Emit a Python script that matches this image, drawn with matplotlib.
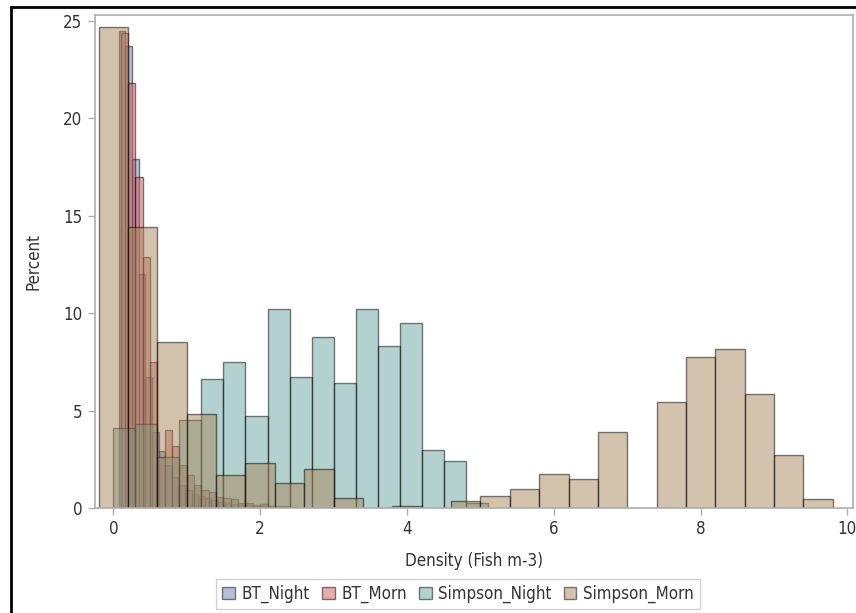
import matplotlib
matplotlib.use("Agg")
import matplotlib.pyplot as plt
from matplotlib import font_manager as fm
from matplotlib.patches import Patch, Rectangle

# bin midpoints and percents
bt_night_width = 0.09
bt_night_mid = [0.12, 0.21, 0.30, 0.39, 0.48, 0.57, 0.66, 0.75, 0.84, 0.93,
                1.02, 1.11, 1.20, 1.29, 1.38, 1.47, 1.56, 1.65, 1.74, 1.83,
                1.92, 2.01, 2.10]
bt_night_pct = [24.5, 23.7, 17.9, 12.0, 6.7, 3.9, 2.9, 2.2, 1.6, 1.2,
                0.9, 0.7, 0.6, 0.5, 0.4, 0.3, 0.25, 0.2, 0.15, 0.15,
                0.1, 0.1, 0.1]

bt_morn_width = 0.1
bt_morn_mid = [0.15, 0.25, 0.35, 0.45, 0.55, 0.65, 0.75, 0.85, 0.95, 1.05,
               1.15, 1.25, 1.35, 1.45, 1.55, 1.65, 1.75, 1.85, 1.95, 2.05,
               2.15, 2.25, 2.35, 2.45]
bt_morn_pct = [24.4, 21.8, 17.0, 12.9, 7.5, 2.6, 4.0, 3.2, 2.2, 1.7,
               1.2, 0.9, 0.8, 0.55, 0.5, 0.45, 0.25, 0.25, 0.15, 0.18,
               0.1, 0.1, 0.08, 0.05]

simpson_night_width = 0.3
simpson_night_mid = [0.15, 0.45, 0.75, 1.05, 1.35, 1.65, 1.95, 2.25, 2.55,
                     2.85, 3.15, 3.45, 3.75, 4.05, 4.35, 4.65, 4.95]
simpson_night_pct = [4.1, 4.3, 2.6, 4.5, 6.6, 7.5, 4.7, 10.2, 6.7,
                     8.8, 6.4, 10.2, 8.3, 9.5, 3.0, 2.4, 0.25]

simpson_morn_width = 0.4
simpson_morn_mid = [0.0, 0.4, 0.8, 1.2, 1.6, 2.0, 2.4, 2.8, 3.2, 3.6, 4.0,
                    4.4, 4.8, 5.2, 5.6, 6.0, 6.4, 6.8, 7.2, 7.6, 8.0, 8.4,
                    8.8, 9.2, 9.6]
simpson_morn_pct = [24.7, 14.4, 8.5, 4.8, 1.7, 2.3, 1.3, 2.0, 0.5, 0.0, 0.1,
                    0.0, 0.35, 0.63, 0.97, 1.74, 1.47, 3.9, 0.0, 5.44, 7.73,
                    8.15, 5.85, 2.72, 0.48]

series = [
    ("BT_Night", bt_night_mid, bt_night_pct, bt_night_width, "#6F7EB3"),
    ("BT_Morn", bt_morn_mid, bt_morn_pct, bt_morn_width, "#D05B5B"),
    ("Simpson_Night", simpson_night_mid, simpson_night_pct, simpson_night_width, "#66A5A0"),
    ("Simpson_Morn", simpson_morn_mid, simpson_morn_pct, simpson_morn_width, "#A9865B"),
]

# SAS text is a narrow sans; use a narrow/condensed face if one is installed
names = {f.name for f in fm.fontManager.ttflist}
if "Liberation Sans Narrow" in names:
    plt.rcParams["font.family"] = ["Liberation Sans Narrow", "DejaVu Sans"]
    fsize = 12.5
elif any(f.name == "DejaVu Sans" and f.stretch in ("condensed", 600, "semi-condensed")
         for f in fm.fontManager.ttflist):
    plt.rcParams["font.family"] = ["DejaVu Sans"]
    plt.rcParams["font.stretch"] = "condensed"
    fsize = 12.2
else:
    plt.rcParams["font.family"] = ["Liberation Sans", "DejaVu Sans"]
    fsize = 11.5

txt = "#333333"
frame = "#AEAEAE"

fig = plt.figure(figsize=(8.56, 6.13), dpi=100)
ax = fig.add_axes([95 / 856, 1 - 508 / 613, (853 - 95) / 856, (508 - 15) / 613])

handles = []
for name, mids, pcts, w, col in series:
    xs = [m for m, p in zip(mids, pcts) if p > 0]
    hs = [p for p in pcts if p > 0]
    ax.bar(xs, hs, width=w, align="center", color=col, alpha=0.5,
           edgecolor="black", linewidth=1.0)
    handles.append(Patch(facecolor=col, alpha=0.5, edgecolor="black",
                         linewidth=1.0, label=name))

ax.set_xlim(-0.25, 10.075)
ax.set_ylim(0, 25.3)
ax.set_xticks(range(0, 11, 2))
ax.set_yticks(range(0, 26, 5))

for s in ax.spines.values():
    s.set_color(frame)
    s.set_linewidth(1.2)
ax.tick_params(axis="both", direction="out", length=5, width=1,
               color=frame, labelcolor=txt, labelsize=fsize, pad=4)

ax.set_xlabel("Density (Fish m-3)", fontsize=fsize, color=txt, labelpad=10)
ax.set_ylabel("Percent", fontsize=fsize, color=txt, labelpad=15)

leg = fig.legend(handles=handles, loc="center", ncol=4,
                 bbox_to_anchor=(458 / 856, 1 - 594 / 613),
                 fontsize=fsize, frameon=True, fancybox=False,
                 handlelength=0.75, handleheight=0.75, handletextpad=0.4,
                 columnspacing=0.7, borderpad=0.35)
leg.get_frame().set_edgecolor("#C8C8C8")
leg.get_frame().set_linewidth(1.0)
for t in leg.get_texts():
    t.set_color(txt)

# outer black border (only left and top are inside the picture)
fig.patches.append(Rectangle((11 / 856, -0.1), 1.2, 1.1 - 7 / 613,
                             transform=fig.transFigure, fill=False,
                             edgecolor="black", linewidth=2.0))

fig.savefig("out.png", dpi=100)
